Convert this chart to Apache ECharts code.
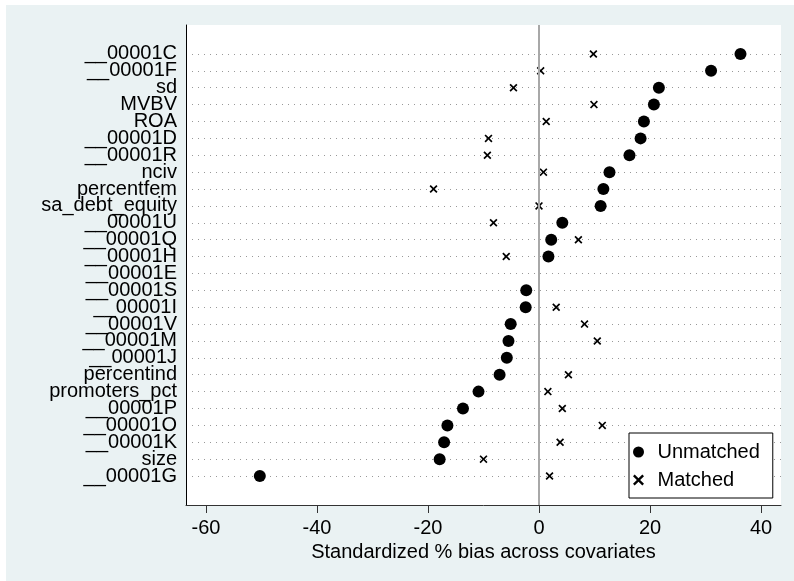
<!DOCTYPE html>
<html>
<head>
<meta charset="utf-8">
<script src="https://cdn.jsdelivr.net/npm/echarts@6/dist/echarts.min.js"></script>
<style>html,body{margin:0;padding:0;background:#fff}#c{width:794px;height:581px}</style>
</head>
<body>
<div id="c"></div>
<script>
const categories = ['__00001C','__00001F','sd','MVBV','ROA','__00001D','__00001R','nciv','percentfem','sa_debt_equity','__00001U','__00001Q','__00001H','__00001E','__00001S','__00001I','__00001V','__00001M','__00001J','percentind','promoters_pct','__00001P','__00001O','__00001K','size','__00001G'];
const unmatched = [36.3, 31.0, 21.6, 20.7, 18.9, 18.3, 16.3, 12.7, 11.6, 11.1, 4.2, 2.2, 1.7, null, -2.3, -2.4, -5.1, -5.5, -5.8, -7.1, -10.9, -13.7, -16.5, -17.1, -17.9, -50.3];
const matched = [9.8, 0.3, -4.6, 9.9, 1.3, -9.1, -9.3, 0.8, -19.0, 0.0, -8.2, 7.1, -5.9, null, null, 3.1, 8.2, 10.5, null, 5.3, 1.6, 4.2, 11.4, 3.8, -10.0, 1.9];
const xTicks = [-60, -40, -20, 0, 20, 40];

const idx = categories.map((c, i) => i);
const evenIdx = idx.filter(i => i % 2 === 0);
const oddIdx = idx.filter(i => i % 2 === 1);
const toPts = arr => arr.map((v, i) => v === null ? null : [v, i]).filter(p => p);
const X_PATH = 'path://M1.5,0 L5,3.5 L8.5,0 L10,1.5 L6.5,5 L10,8.5 L8.5,10 L5,6.5 L1.5,10 L0,8.5 L3.5,5 L0,1.5 Z';
const FONT = "'Liberation Sans', Arial, sans-serif";
const Y_MIN = -1.716, Y_MAX = 26.716;

function yAx(labelVals, main) {
  return {
    type: 'value', inverse: true, min: Y_MIN, max: Y_MAX, position: 'left', offset: 0,
    axisLine: {show: main, onZero: false, lineStyle: {color: '#000', width: 1}},
    axisTick: {show: false, customValues: main ? idx : labelVals},
    axisLabel: {fontSize: 20, color: '#000', margin: 9, customValues: labelVals, fontFamily: FONT,
      showMinLabel: true, showMaxLabel: true, hideOverlap: false,
      formatter: v => categories[v] !== undefined ? categories[v] : ''},
    splitLine: {show: main, lineStyle: {color: '#999', width: 1, type: [1, 5]}}
  };
}

const chart = echarts.init(document.getElementById('c'), null, {renderer: 'canvas'});
chart.setOption({
  backgroundColor: '#EAF2F3',
  animation: false,
  textStyle: {fontFamily: FONT},
  graphic: [
    {type: 'rect', left: 0, top: 0, shape: {width: 794, height: 5}, style: {fill: '#fff'}, silent: true},
    {type: 'rect', left: 0, top: 0, shape: {width: 6, height: 581}, style: {fill: '#fff'}, silent: true}
  ],
  grid: {left: 186, right: 13, top: 25, bottom: 76, show: true, backgroundColor: '#fff', borderWidth: 0},
  legend: {
    orient: 'vertical', left: 629, top: 433,
    backgroundColor: '#fff', borderColor: '#000', borderWidth: 1,
    padding: [9, 13, 8, 4], itemGap: 8, itemWidth: 14, itemHeight: 11,
    textStyle: {fontSize: 20, color: '#000', fontFamily: FONT, padding: [0, 0, 0, 7]},
    data: [{name: 'Unmatched', icon: 'circle'}, {name: 'Matched', icon: X_PATH, itemStyle: {borderWidth: 0}}]
  },
  xAxis: {
    type: 'value', min: -63.6, max: 43.6,
    name: 'Standardized % bias across covariates', nameLocation: 'middle', nameGap: 33,
    nameTextStyle: {fontSize: 20, color: '#000', fontFamily: FONT},
    axisLine: {show: true, onZero: false, lineStyle: {color: '#333', width: 1}},
    axisTick: {show: true, length: 8, lineStyle: {color: '#333'}, customValues: xTicks},
    axisLabel: {fontSize: 20, color: '#000', margin: 13, customValues: xTicks, fontFamily: FONT},
    splitLine: {show: false}
  },
  yAxis: [yAx(evenIdx, true), yAx(oddIdx, false)],
  series: [
    {
      type: 'scatter', name: 'ref', data: [], z: 1, silent: true,
      markLine: {silent: true, symbol: ['none', 'none'], label: {show: false},
        lineStyle: {color: '#a8a8a8', width: 2, type: 'solid'}, data: [{xAxis: 0}]}
    },
    {type: 'scatter', name: 'Unmatched', symbol: 'circle', symbolSize: 12, z: 3,
      itemStyle: {color: '#000', opacity: 1}, data: toPts(unmatched)},
    {type: 'scatter', name: 'Matched', symbol: X_PATH, symbolSize: 8, z: 3,
      itemStyle: {color: '#000', opacity: 1}, data: toPts(matched)}
  ]
});
</script>
</body>
</html>
